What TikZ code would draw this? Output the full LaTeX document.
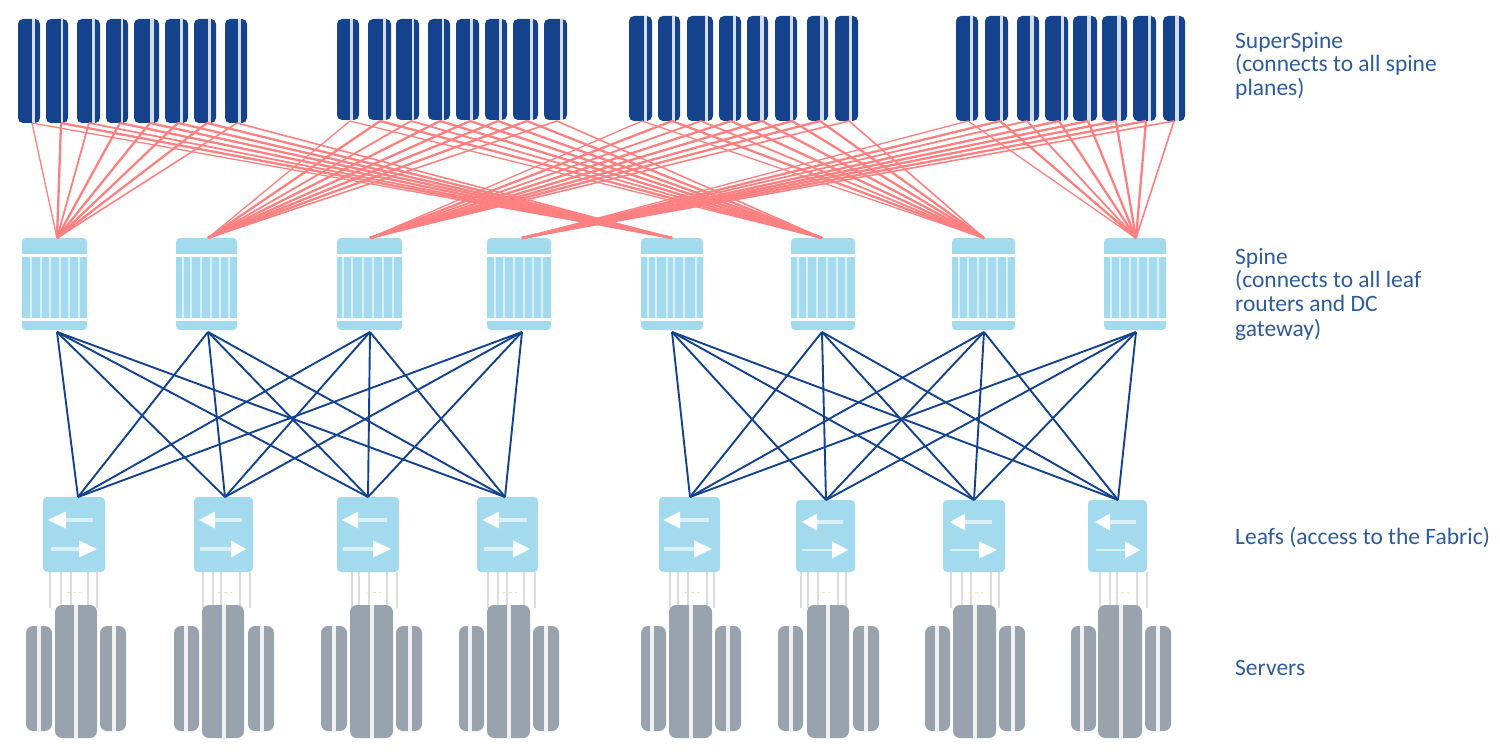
\documentclass[tikz,border=0pt]{standalone}
\usepackage{fontspec}
\setmainfont{Carlito}
\definecolor{navy}{HTML}{15428C}
\definecolor{slitnavy}{HTML}{D5DDEC}
\definecolor{sky}{HTML}{A3DAEE}
\definecolor{slitsky}{HTML}{D9F0F8}
\definecolor{slate}{HTML}{99A3AD}
\definecolor{salmon}{HTML}{FF8080}
\definecolor{cablegrey}{HTML}{DCDCDC}
\definecolor{dotorange}{HTML}{F6DDC0}
\definecolor{labelblue}{HTML}{2F5B9C}
\tikzset{
  x=1pt,y=-1pt,
  part/.style={inner sep=0pt,outer sep=0pt,draw=none},
  blade/.style={part,fill=navy,rounded corners=5pt},
  spinebox/.style={part,fill=sky,rounded corners=4pt},
  leafbox/.style={part,fill=sky,rounded corners=4pt},
  srv/.style={part,fill=slate,rounded corners=7pt},
  redlink/.style={draw=salmon,line width=#1},
  redlink/.default=2.3pt,
  bluelink/.style={draw=navy,line width=1.9pt},
  cable/.style={draw=cablegrey,line width=2.4pt},
  tinydots/.style={draw=dotorange,line width=1.2pt,dash pattern=on 3pt off 3pt},
  sidelabel/.style={inner sep=0pt,anchor=north west,align=left,text=labelblue,font=\fontsize{23.5}{23.5}\selectfont},
}
\newcommand{\slab}[6]{\node[#2,minimum width={(#4-(#3))*1pt},minimum height={(#6-(#5))*1pt}] (#1) at ({(#3+#4)/2},{(#5+#6)/2}) {};}
\begin{document}
\begin{tikzpicture}
\useasboundingbox (0,0) rectangle (1500,754);
% SuperSpine planes
\foreach \a/\b/\sa/\sb/\c [count=\i] in {18/40/32/35/32,46/68/61/63/61,77/100/92/95/89,106/128/121/123/120,134/159/150/154/150,165/188/180/183/178,194/216/208/211/207,225/247/238/241/237}{
  \slab{pa\i}{blade}{\a}{\b}{19}{123}
  \fill[slitnavy] (\sa,19) rectangle (\sb,123);
  \coordinate (ca\i) at (\c,123);}
\foreach \a/\b/\sa/\sb/\c [count=\i] in {337/359/350/353/350,368/391/383/386/380,396/419/412/414/411,428/450/442/444/440,456/479/470/473/470,485/507/499/502/498,513/538/530/533/527,544/567/560/563/557}{
  \slab{pb\i}{blade}{\a}{\b}{19}{120}
  \fill[slitnavy] (\sa,19) rectangle (\sb,120);
  \coordinate (cb\i) at (\c,121);}
\foreach \a/\b/\sa/\sb/\c [count=\i] in {629/652/644/647/642,658/680/672/675/672,687/713/705/708/701,719/741/733/735.5/731,747/768/760/764/762,775/797/790/793/792,807/828/820/824/820,835/858/849/852/849}{
  \slab{pc\i}{blade}{\a}{\b}{16}{121}
  \fill[slitnavy] (\sa,16) rectangle (\sb,121);
  \coordinate (cc\i) at (\c,121);}
\foreach \a/\b/\sa/\sb/\c [count=\i] in {956/978/970/973/968,985/1008/1000/1003/1000,1017/1039/1030/1034/1027,1045/1068/1061/1064/1059,1073/1097/1087/1091/1088,1102/1127/1117/1121/1116,1133/1156/1148/1151/1146,1163/1185/1175/1179/1174}{
  \slab{pd\i}{blade}{\a}{\b}{16}{121}
  \fill[slitnavy] (\sa,16) rectangle (\sb,121);
  \coordinate (cd\i) at (\c,121);}
% Spines
\foreach \a/\b/\m/\sa/\sb/\sc/\sd/\se/\sf [count=\i] in {
  22/87/57/31/41/50/60/69/79,
  176/237/208/183/191/201/211/220/229,
  337/402/370/343/352/363/373/383/393,
  487/551/522/495/504/514/524/533/542,
  641/703/672/648/656/667/674/684/696,
  791/855/822/798/807/817/827/837/846,
  952/1015/984/959/968/978/987/997/1007,
  1104/1166/1136/1111/1120/1130/1138/1148/1158}{
  \slab{sp\i}{spinebox}{\a}{\b}{238}{330}
  \fill[white] (\a,254) rectangle (\b,257);
  \fill[white] (\a,318) rectangle (\b,321);
  \foreach \s in {\sa,\sb,\sc,\sd,\se,\sf}{\fill[slitsky] (\s-1.3,257) rectangle (\s+1.3,318);}
  \coordinate (st\i) at (\m,238);
  \coordinate (sb\i) at (\m,332);}
% Red links
\foreach \j/\w in {1/1.3pt,2/2.3pt,3/1.8pt,4/2.3pt,5/2.3pt,6/2.3pt,7/2.3pt,8/1.6pt}{
  \draw[redlink=\w] (ca\j) -- (st1); \draw[redlink=\w] (ca\j) -- (st5);
  \draw[redlink=\w] (cb\j) -- (st2); \draw[redlink=\w] (cb\j) -- (st6);
  \draw[redlink=\w] (cc\j) -- (st3); \draw[redlink=\w] (cc\j) -- (st7);
  \draw[redlink=\w] (cd\j) -- (st4); \draw[redlink=\w] (cd\j) -- (st8);}
% Leaves with arrows and cables
\foreach \a/\b/\t/\m/\ta/\ba/\ea/\sr/\br/\tr/\ya/\yr/\wr/\dota/\cA/\cB/\cC/\cD/\cE [count=\i] in {
  43/105/497/78/48/66/93/51/79/97/520/549/3.6/67/50/61/71/88/97,
  194/253/497/225/199/215/242/200/231/246/520/549/3.6/218/203/213/221/240/250,
  337/399/497/368/342/358/387/343/373/391/520/549/3.6/367/352/359/369/387/397,
  477/538/497/505/482/499/527/484/513/530/520/549/3.6/503/488/498/507/524/535,
  659/720/497/690/663/680/709/664/694/712/520/549/3.6/685/670/678/688/707/714,
  796/855/500/826/802/817/843/802/832/848/522/550/2/816/801/808/818/838/846,
  943/1005/500/974/950/965/992/950/979/997/522/550/2/969/951/962/971/991/999,
  1088/1147/500/1118/1095/1110/1136/1096/1125/1140/522/550/2/1115/1100/1110/1117/1137/1147}{
  \foreach \x in {\cA,\cB,\cC,\cD,\cE}{\draw[cable] (\x,572) -- (\x,608);}
  \draw[tinydots] (\dota,592.5) -- ++(14,0);
  \slab{lf\i}{leafbox}{\a}{\b}{\t}{572}
  \draw[slitsky,line width=3.6pt] (\ba,\ya) -- (\ea,\ya);
  \fill[white] (\ta,\ya) -- (\ba,\ya-8.5) -- (\ba,\ya+8.5) -- cycle;
  \draw[slitsky,line width=\wr pt] (\sr,\yr) -- (\br,\yr);
  \fill[white] (\tr,\yr) -- (\br,\yr-8.5) -- (\br,\yr+8.5) -- cycle;
  \coordinate (lt\i) at (\m,\t);}
% Blue links
\foreach \s in {1,...,4}{\foreach \l in {1,...,4}{\draw[bluelink] (sb\s) -- (lt\l);}}
\foreach \s in {5,...,8}{\foreach \l in {5,...,8}{\draw[bluelink] (sb\s) -- (lt\l);}}
% Servers
\foreach \la/\lb/\ls/\ca/\cb/\cs/\ra/\rb/\rs [count=\i] in {
  26/52/39/55/97/76/100/126/114,
  174/199/185.5/202/244/224/248/274/261.5,
  321/347/334/350/393/372/396/422/410,
  459/484/470/487/530/509/533/559/546,
  641/666/652/669/712/690.5/715/741/728,
  778/803/790.5/807/849/828/853/879/865.5,
  925/950/937/953/996/975/999/1025/1013,
  1071/1096/1082/1098/1142/1120.5/1145/1171/1158}{
  \slab{svl\i}{srv}{\la}{\lb}{626}{731}
  \slab{svc\i}{srv}{\ca}{\cb}{605}{738}
  \slab{svr\i}{srv}{\ra}{\rb}{626}{731}
  \fill[cablegrey!40!white] (\ls-2,626) rectangle (\ls+2,731);
  \fill[cablegrey!40!white] (\cs-2,605) rectangle (\cs+2,738);
  \fill[cablegrey!40!white] (\rs-2,626) rectangle (\rs+2,731);}
% Labels
\node[sidelabel] (t1) at (1235,32) {SuperSpine\\(connects to all spine\\planes)};
\node[sidelabel] (t2) at (1235,248) {Spine\\(connects to all leaf\\routers and DC\\[1.5pt]gateway)};
\node[sidelabel] (t3) at (1235,527) {Leafs\ (access to the Fabric)};
\node[sidelabel] (t4) at (1235,660) {Servers};
\end{tikzpicture}
\end{document}
